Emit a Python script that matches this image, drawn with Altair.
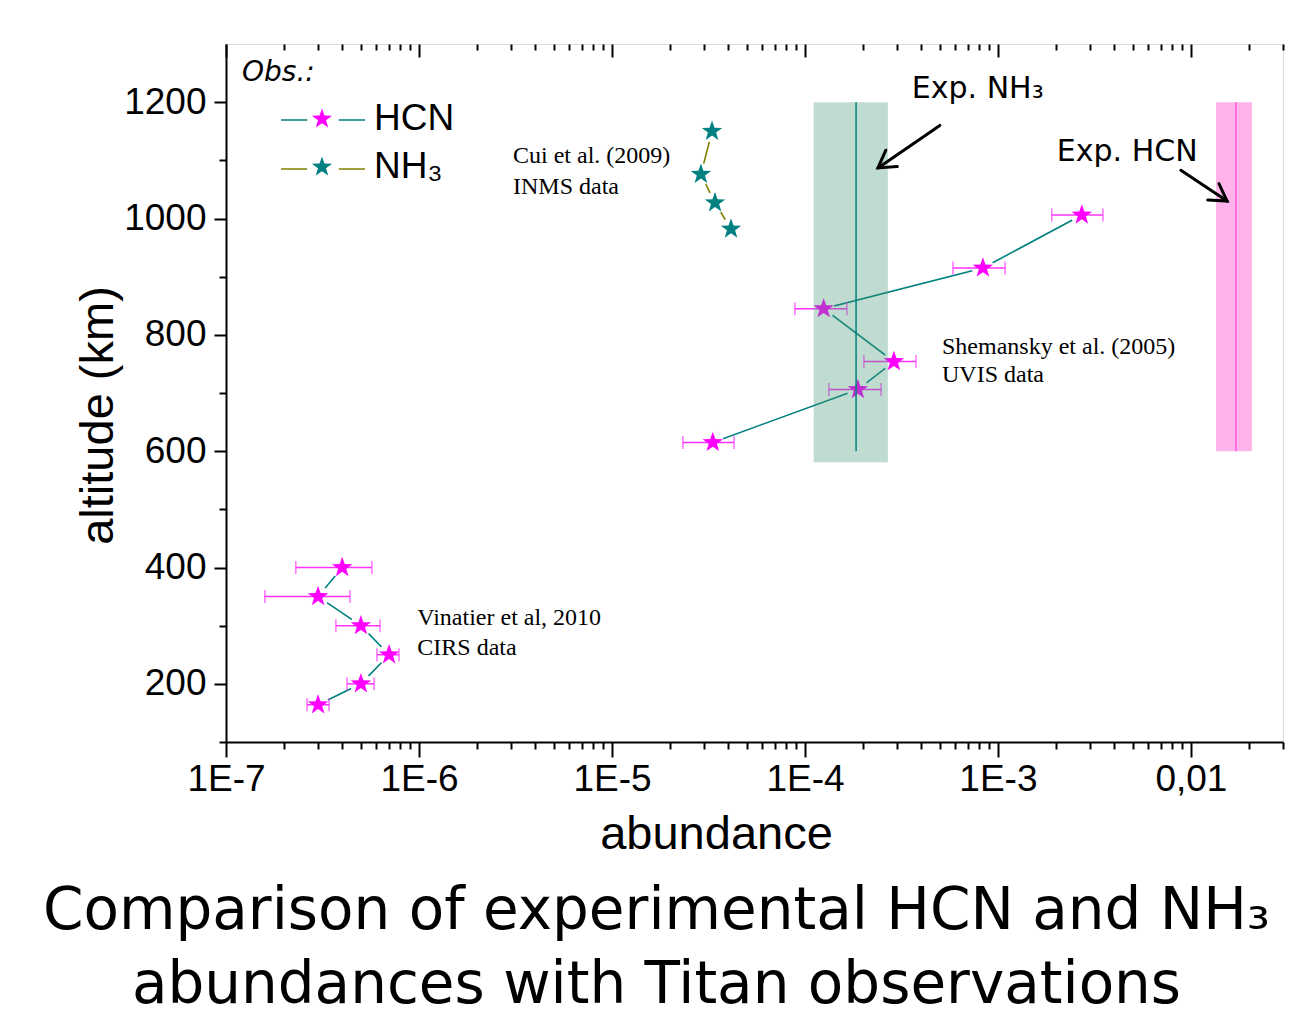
import altair as alt
import pandas as pd

# ---------------- data ----------------
obs_names = ["HCN", "NH₃"]

# HCN, Vinatier et al. 2010 (CIRS)
cirs_alt = [164, 200, 250, 300, 350, 400]
cirs_val = [3.0e-7, 5.0e-7, 7.0e-7, 5.0e-7, 3.0e-7, 4.0e-7]
cirs_lo = [2.63e-7, 4.24e-7, 6.06e-7, 3.71e-7, 1.59e-7, 2.3e-7]
cirs_hi = [3.42e-7, 5.85e-7, 7.88e-7, 6.28e-7, 4.39e-7, 5.7e-7]

# HCN, Shemansky et al. (2005) (UVIS)
uvis_alt = [615, 706, 754, 845, 915, 1006]
uvis_val = [3.33e-5, 1.88e-4, 2.89e-4, 1.25e-4, 8.36e-4, 2.72e-3]
uvis_lo = [2.33e-5, 1.33e-4, 2.02e-4, 8.87e-5, 5.85e-4, 1.9e-3]
uvis_hi = [4.29e-5, 2.48e-4, 3.76e-4, 1.65e-4, 1.09e-3, 3.5e-3]

# NH3, Cui et al. (2009) (INMS)
inms_alt = [982, 1027, 1076, 1150]
inms_val = [4.14e-5, 3.42e-5, 2.89e-5, 3.3e-5]

# experimental ranges
exp_species = ["NH₃", "HCN"]
exp_center = [1.84e-4, 0.0171]
exp_lo = [1.11e-4, 0.0135]
exp_hi = [2.69e-4, 0.0207]
exp_band_bottom = [581, 600]
exp_line_bottom = [600, 600]
exp_top = [1200, 1200]

# annotations
note_text = ["Cui et al. (2009)", "INMS data", "Shemansky et al. (2005)", "UVIS data",
             "Vinatier et al, 2010", "CIRS data"]
note_x = [3.07e-6, 3.07e-6, 5.13e-4, 5.13e-4, 9.8e-7, 9.8e-7]
note_y = [1108, 1054, 779, 731, 313, 262]

exp_label_text = ["Exp. NH₃", "Exp. HCN"]
exp_label_x = [3.58e-4, 2.02e-3]
exp_label_y = [1222, 1114]

arrow_x_start = [5.0e-4, 8.87e-3]
arrow_y_start = [1160, 1083]
arrow_x_end = [2.39e-4, 0.0154]
arrow_y_end = [1087, 1030]

x_major = [1e-7, 1e-6, 1e-5, 1e-4, 1e-3, 1e-2]
x_tick_labels = ["1E-7", "1E-6", "1E-5", "1E-4", "1E-3", "0,01"]
x_minor = [m * 10.0 ** e for e in range(-7, -1) for m in range(2, 10) if m * 10.0 ** e <= 0.03]
y_major = [200, 400, 600, 800, 1000, 1200]
y_minor = [100, 300, 500, 700, 900, 1100]

title_lines = ["Comparison of experimental HCN and NH₃",
               "abundances with Titan observations"]

# ---------------- tables ----------------
rows = []
for a, v, lo, hi in zip(cirs_alt, cirs_val, cirs_lo, cirs_hi):
    rows.append(dict(obs="HCN", set="CIRS", alt=a, val=v, lo=lo, hi=hi))
for a, v, lo, hi in zip(uvis_alt, uvis_val, uvis_lo, uvis_hi):
    rows.append(dict(obs="HCN", set="UVIS", alt=a, val=v, lo=lo, hi=hi))
for a, v in zip(inms_alt, inms_val):
    rows.append(dict(obs="NH₃", set="INMS", alt=a, val=v, lo=None, hi=None))
obs = pd.DataFrame(rows)
obs["obs2"] = obs["obs"]
obs_err = obs[obs["obs"] == "HCN"].copy()

exp = pd.DataFrame(dict(sp=exp_species, c=exp_center, lo=exp_lo, hi=exp_hi,
                        bb=exp_band_bottom, lb=exp_line_bottom, top=exp_top))
notes = pd.DataFrame(dict(t=note_text, x=note_x, y=note_y))
explab = pd.DataFrame(dict(t=exp_label_text, x=exp_label_x, y=exp_label_y))
arrows = pd.DataFrame(dict(x=arrow_x_start, y=arrow_y_start, x2=arrow_x_end, y2=arrow_y_end))

# ---------------- styling ----------------
W, H = 1057, 698
SANS = "Liberation Sans"
SERIF = "Liberation Serif"
HAND = "DejaVu Sans"
MAG = "#ff00ff"
ERR = "#ff33ff"
TEAL = "#008080"
OLIVE = "#808000"

STAR = ("M0,-1L0.2351,-0.3236L0.9511,-0.309L0.3804,0.1236L0.5878,0.809L0,0.4"
        "L-0.5878,0.809L-0.3804,0.1236L-0.9511,-0.309L-0.2351,-0.3236Z")
LEG_STAR = ("M0,-0.44L0.1034,-0.1424L0.4185,-0.136L0.1674,0.0544L0.2586,0.356L0,0.176"
            "L-0.2586,0.356L-0.1674,0.0544L-0.4185,-0.136L-0.1034,-0.1424Z"
            "M-1.75,0L-1.75,0M1.75,0L1.75,0")
LEG_LINE = "M-1.75,0L-0.66,0M0.66,0L1.75,0M0,-0.44L0,-0.44M0,0.356L0,0.356"
CHEVRON = "M-1,-0.6L0,0L-1,0.6"

xscale = alt.Scale(type="log", domain=[1e-7, 0.03], nice=False)
yscale = alt.Scale(domain=[100, 1300], nice=False, zero=False)

label_expr = ("[" + ",".join("'%s'" % s for s in x_tick_labels) + "][round(log(datum.value)/LN10)+7]")

ax_x_major = alt.Axis(orient="bottom", values=x_major, labelExpr=label_expr, tickSize=15, tickWidth=2,
                      tickColor="black", domain=True, domainColor="black", domainWidth=2, grid=False,
                      labelFont=SANS, labelFontSize=37, labelColor="black", labelPadding=4,
                      labelFlush=False, labelOverlap=False,
                      title="abundance", titleFont=SANS, titleFontSize=47, titleFontWeight="normal",
                      titleColor="black", titleX=490, titleY=92, titleAlign="center",
                      titleBaseline="middle")
ax_x_minor = alt.Axis(orient="bottom", values=x_minor, labels=False, tickSize=7, tickWidth=2,
                      tickColor="black", domain=False, grid=False, title=None)
ax_top_major = alt.Axis(orient="bottom", offset=-H, values=x_major, labels=False, tickSize=13,
                        tickWidth=2, tickColor="black", domain=False, grid=False, title=None)
ax_top_minor = alt.Axis(orient="bottom", offset=-H, values=x_minor, labels=False, tickSize=6,
                        tickWidth=2, tickColor="black", domain=False, grid=False, title=None)
ax_y_major = alt.Axis(orient="left", values=y_major, format="d", tickSize=12, tickWidth=2,
                      tickColor="black", domain=True, domainColor="black", domainWidth=2,
                      grid=False, labelFont=SANS, labelFontSize=37, labelColor="black",
                      labelPadding=8, title="altitude (km)", titleFont=SANS, titleFontSize=47,
                      titleFontWeight="normal", titleColor="black", titleX=-128, titleY=371,
                      titleAlign="center", titleBaseline="middle", titleAngle=270)
ax_y_minor = alt.Axis(orient="left", values=y_minor, labels=False, tickSize=7, tickWidth=2,
                      tickColor="black", domain=False, grid=False, title=None)

legend_common = dict(orient="none", legendX=16, legendY=15, padding=0, title="Obs.:",
                     titleFont=HAND, titleFontSize=28, titleFontStyle="italic",
                     titleFontWeight="normal", titlePadding=8, labelFont=SANS, labelFontSize=37,
                     labelOffset=28, symbolOffset=56, symbolSize=2304, rowPadding=6)
star_legend = alt.Legend(symbolType=LEG_STAR, symbolStrokeWidth=0, titleColor="black",
                         labelColor="black", **legend_common)
line_legend = alt.Legend(symbolType=LEG_LINE, symbolStrokeWidth=1.6, titleColor="transparent",
                         labelColor="transparent", **legend_common)


def X(field, axis=None):
    return alt.X(field, type="quantitative", scale=xscale, axis=axis)


def Y(field, axis=None):
    return alt.Y(field, type="quantitative", scale=yscale, axis=axis)


lines = alt.Chart(obs).mark_line(strokeWidth=1.6).encode(
    x=X("val", ax_x_major), y=Y("alt", ax_y_major), detail="set:N", order="alt:Q",
    stroke=alt.Stroke("obs2:N", scale=alt.Scale(range=[TEAL, OLIVE]), legend=line_legend),
)
gaps = alt.Chart(obs).mark_point(shape="circle", filled=True, color="white", opacity=1,
                                 size=480, strokeWidth=0).encode(
    x=X("val", ax_x_minor), y=Y("alt", ax_y_minor))
err = alt.Chart(obs_err).mark_rule(color=ERR, strokeWidth=1.5).encode(
    x=X("lo", ax_top_major), x2="hi:Q", y=Y("alt"))
caps = alt.Chart(obs_err).transform_fold(["lo", "hi"], as_=["end", "xv"]).mark_tick(
    color=ERR, thickness=1.5, size=13, orient="vertical").encode(
    x=X("xv", ax_top_minor), y=Y("alt"))
stars = alt.Chart(obs).mark_point(shape=STAR, filled=True, size=460, strokeWidth=0,
                                  opacity=1).encode(
    x=X("val"), y=Y("alt"),
    fill=alt.Fill("obs:N", scale=alt.Scale(domain=obs_names, range=[MAG, TEAL]),
                  legend=star_legend),
)
band_nh3 = alt.Chart(exp).transform_filter("datum.sp == 'NH₃'").mark_rect(
    color="#3e946f", opacity=0.325).encode(x=X("lo"), x2="hi:Q", y=Y("bb"), y2="top:Q")
band_hcn = alt.Chart(exp).transform_filter("datum.sp == 'HCN'").mark_rect(
    color="#ffb3ea", opacity=1).encode(x=X("lo"), x2="hi:Q", y=Y("bb"), y2="top:Q")
cline_nh3 = alt.Chart(exp).transform_filter("datum.sp == 'NH₃'").mark_rule(
    color=TEAL, strokeWidth=1.5).encode(x=X("c"), y=Y("lb"), y2="top:Q")
cline_hcn = alt.Chart(exp).transform_filter("datum.sp == 'HCN'").mark_rule(
    color="#ff55dd", strokeWidth=1.5).encode(x=X("c"), y=Y("lb"), y2="top:Q")
note_marks = alt.Chart(notes).mark_text(align="left", baseline="middle", font=SERIF,
                                        fontSize=24, color="black").encode(
    x=X("x"), y=Y("y"), text="t:N")
exp_marks = alt.Chart(explab).mark_text(align="left", baseline="middle", font=HAND,
                                        fontSize=30, color="black").encode(
    x=X("x"), y=Y("y"), text="t:N")
arrow_lines = alt.Chart(arrows).mark_rule(color="black", strokeWidth=3, strokeCap="round").encode(
    x=X("x"), x2="x2:Q", y=Y("y"), y2="y2:Q")
head_nh3 = alt.Chart(arrows.iloc[[0]]).mark_point(shape=CHEVRON, filled=False, color="black",
                                                 size=1100, strokeWidth=3, opacity=1,
                                                 angle=145, strokeCap="round").encode(
    x=X("x2"), y=Y("y2"))
head_hcn = alt.Chart(arrows.iloc[[1]]).mark_point(shape=CHEVRON, filled=False, color="black",
                                                 size=1100, strokeWidth=3, opacity=1,
                                                 angle=34, strokeCap="round").encode(
    x=X("x2"), y=Y("y2"))

chart = alt.layer(
    band_hcn, cline_hcn, lines, gaps, err, caps, stars, band_nh3, cline_nh3,
    note_marks, exp_marks, arrow_lines, head_nh3, head_hcn,
).resolve_axis(x="independent", y="independent").properties(
    width=W, height=H,
    autosize=alt.AutoSizeParams(type="none"),
    padding={"left": 218, "top": 36, "right": 23, "bottom": 280},
    title=alt.TitleParams(text=title_lines, orient="bottom", anchor="middle", frame="group",
                          font=HAND, fontSize=58, fontWeight="normal", color="black",
                          lineHeight=74, offset=26, dx=-98),
).configure_view(stroke="black", strokeWidth=2).configure(background="white")

chart.save("out.html", embed_options={"renderer": "svg", "actions": False})
